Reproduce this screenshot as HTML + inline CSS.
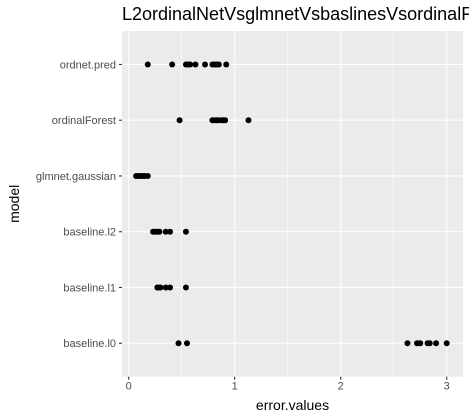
<!DOCTYPE html>
<html><head><meta charset="utf-8"><style>
body{margin:0;background:#fff;width:469px;height:420px;overflow:hidden}
svg{display:block;font-family:"Liberation Sans",sans-serif}
</style></head><body>
<svg id="c" width="469" height="420"></svg>
<script>
const categories=["ordnet.pred","ordinalForest","glmnet.gaussian","baseline.l2","baseline.l1","baseline.l0"];
const ordnetVals=[0.18,0.41,0.54,0.56,0.58,0.63,0.72,0.79,0.81,0.83,0.85,0.92];
const forestVals=[0.48,0.79,0.81,0.83,0.84,0.87,0.89,0.91,1.13];
const glmnetVals=[0.07,0.09,0.11,0.13,0.15,0.18];
const l2Vals=[0.23,0.25,0.27,0.29,0.35,0.39,0.54];
const l1Vals=[0.27,0.28,0.30,0.35,0.39,0.54];
const l0Vals=[0.47,0.55,2.63,2.72,2.75,2.82,2.84,2.90,3.0];
const xTicks=[0,1,2,3];
const xMinor=[0.5,1.5,2.5];
const seriesVals=[ordnetVals,forestVals,glmnetVals,l2Vals,l1Vals,l0Vals];

const NS="http://www.w3.org/2000/svg";
const svg=document.getElementById('c');
const L=122,R=463,T=31,B=376.7;
const x=v=>128.7+v*106;
const y=i=>T+(i+0.6)*((B-T)/(categories.length+0.2));
function mk(t,a,p){const e=document.createElementNS(NS,t);for(const k in a)e.setAttribute(k,a[k]);(p||svg).appendChild(e);return e;}
const bg=mk('rect',{x:L,y:T,width:R-L,height:B-T,fill:'#ebebeb'});


xMinor.forEach(v=>{const l=mk('line',{x1:x(v),x2:x(v),y1:T,y2:B,stroke:'#fff','stroke-width':0.6});

});
xTicks.forEach(v=>{const l=mk('line',{x1:x(v),x2:x(v),y1:T,y2:B,stroke:'#fff','stroke-width':1.1});


const tk=mk('line',{x1:x(v),x2:x(v),y1:B,y2:B+3,stroke:'#333','stroke-width':1.1});


const t=mk('text',{x:x(v),y:B+13,'text-anchor':'middle','font-size':11,fill:'#4d4d4d'});t.textContent=v;

});
categories.forEach((c,i)=>{const yy=y(i);
const l=mk('line',{x1:L,x2:R,y1:yy,y2:yy,stroke:'#fff','stroke-width':1.1});


const tk=mk('line',{x1:L-3,x2:L,y1:yy,y2:yy,stroke:'#333','stroke-width':1.1});


const t=mk('text',{x:L-6,y:yy+4,'text-anchor':'end','font-size':11,fill:'#4d4d4d'});t.textContent=c;


seriesVals[i].forEach(v=>{const p=mk('circle',{cx:x(v),cy:yy,r:3,fill:'#000'});

});});
const tt=mk('text',{x:122,y:20,'font-size':18,fill:'#000'});tt.textContent='L2ordinalNetVsglmnetVsbaslinesVsordinalForest';


const xt=mk('text',{x:(L+R)/2,y:410,'text-anchor':'middle','font-size':14,fill:'#000'});xt.textContent='error.values';


const yt=mk('text',{x:0,y:0,'text-anchor':'middle','font-size':14,fill:'#000',transform:`translate(19,${(T+B)/2}) rotate(-90)`});yt.textContent='model';


</script>
</body></html>
